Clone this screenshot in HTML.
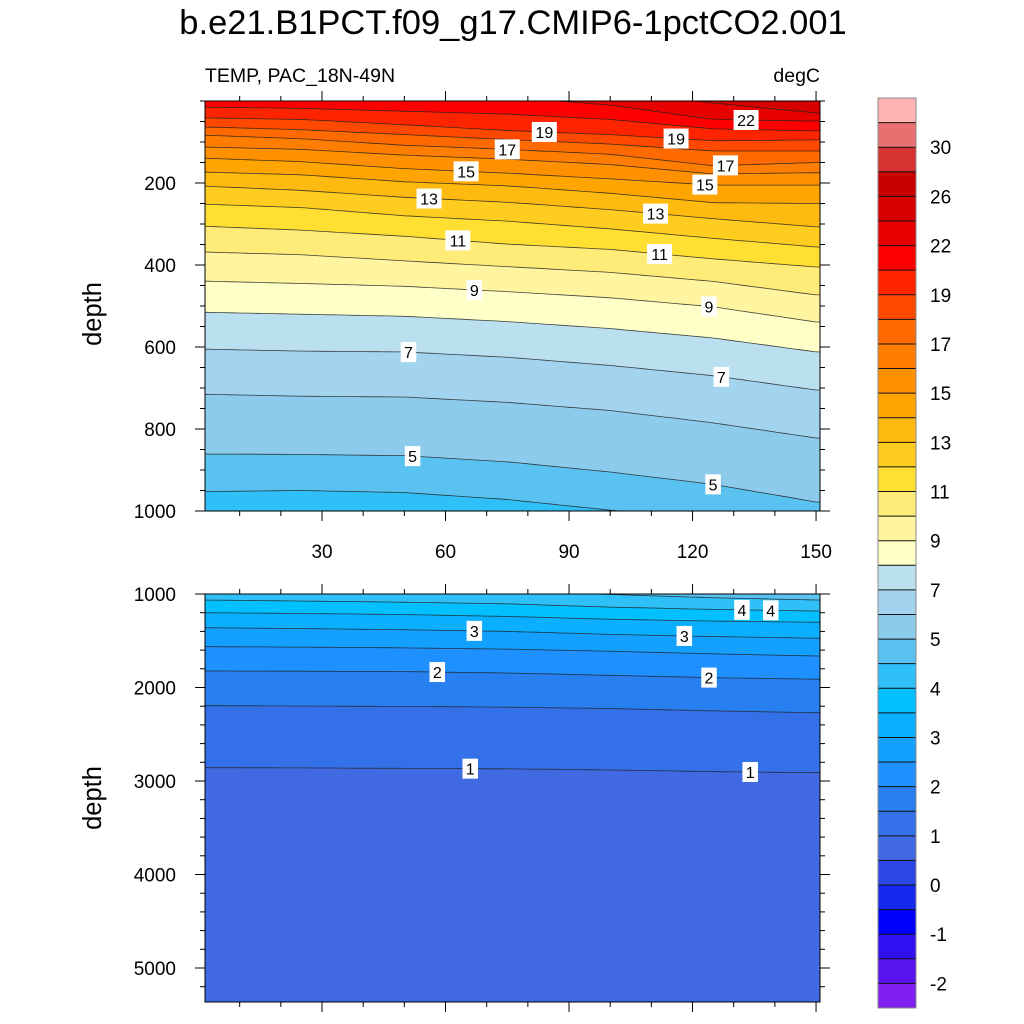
<!DOCTYPE html>
<html><head><meta charset="utf-8"><style>
body{margin:0;background:#fff;}
svg{display:block;font-family:"Liberation Sans",Arial,sans-serif;}
</style></head><body>
<svg id="chart" width="1024" height="1024" viewBox="0 0 1024 1024" xmlns="http://www.w3.org/2000/svg">
<text x="513" y="34" text-anchor="middle" font-size="34.5">b.e21.B1PCT.f09_g17.CMIP6-1pctCO2.001</text>
<text x="205" y="82" font-size="19.5">TEMP, PAC_18N-49N</text>
<text x="820" y="82" font-size="19.5" text-anchor="end">degC</text>
<text transform="translate(101,314) rotate(-90)" text-anchor="middle" font-size="25.5">depth</text>
<text transform="translate(101,798) rotate(-90)" text-anchor="middle" font-size="25.5">depth</text>
<defs>
<clipPath id="clipTop"><rect x="205" y="101" width="615" height="410"/></clipPath>
<clipPath id="clipBot"><rect x="205" y="594" width="615" height="408"/></clipPath>
</defs>
<g id="topPanel" clip-path="url(#clipTop)"></g>
<g id="botPanel" clip-path="url(#clipBot)"></g>
<g id="overlay"></g>
<g id="colorbar"></g>
</svg>
<script>
// Contour levels and colours (colorbar)
const levels = [-2,-1.5,-1,-0.5,0,0.5,1,1.5,2,2.5,3,3.5,4,4.5,5,6,7,8,9,10,11,12,13,14,15,16,17,18,19,20,22,24,26,28,30,32];
const colors = ["#8020f0","#5a14f0","#3010f0","#0000ff","#1428f0","#2d46e6","#4169e1","#3470e8","#2880f0","#1e90ff","#14a0ff","#0ab0ff","#00c0ff","#30c0f8","#5ac2f0","#8ccbeb","#a2d4f0","#bae0f0","#ffffc8","#fff5a0","#ffec78","#ffe032","#ffcc20","#ffba10","#ffa500","#ff9000","#ff7d00","#ff6a00","#ff4800","#ff2400","#ff0000","#e60000","#d70000","#c80000","#d73232","#e87070","#ffb4b4"];
const cbLabels = [-2,-1,0,1,2,3,4,5,7,9,11,13,15,17,19,22,26,30];
// Longitude columns where isotherm depths were read
const lonCols = [0,25,50,75,100,125,150];
// Upper panel isotherm depths (m)
const topLevels = [4.5,5,6,7,8,9,10,11,12,13,14,15,16,17,18,19,20,22,24];
const topDepths = [
 [953,950,955,972,998,1020,1060],
 [861,862,865,880,905,935,978],
 [715,720,722,735,755,785,822],
 [605,610,612,625,645,670,705],
 [515,520,525,538,555,578,612],
 [439,445,452,465,480,502,539],
 [368,375,390,404,418,440,473],
 [305,315,330,349,362,385,405],
 [251,260,280,293,312,335,356],
 [207,218,235,247,265,287,307],
 [173,180,197,207,225,248,250],
 [139,148,165,176,190,205,205],
 [112,118,132,142,155,178,175],
 [83,92,108,118,130,158,150],
 [63,70,82,94,105,122,122],
 [41,45,58,72,82,97,95],
 [15,18,25,32,45,68,73],
 [-20,-20,-15,-10,10,45,49],
 [-50,-50,-50,-50,-30,5,29]
];
// Deep panel isotherm depths (m)
const botLevels = [1,1.5,2,2.5,3,3.5,4,4.5];
const botDepths = [
 [2857,2860,2865,2870,2882,2900,2911],
 [2194,2198,2203,2210,2225,2250,2270],
 [1823,1826,1830,1845,1870,1895,1911],
 [1563,1568,1576,1590,1612,1640,1663],
 [1360,1370,1382,1400,1432,1455,1473],
 [1200,1208,1220,1240,1270,1290,1302],
 [1064,1075,1088,1105,1140,1165,1182],
 [960,960,965,975,1005,1040,1064]
];
// Contour label positions: [level, longitude]
const topLabelPos = [[19,84],[17,75],[15,65],[13,56],[11,63],[9,67],[7,51],[5,52],[22,133],[19,116],[17,128],[15,123],[13,111],[11,112],[9,124],[7,127],[5,125]];
const botLabelPos = [[4,132],[4,139],[3,67],[3,118],[2,58],[2,124],[1,66],[1,134]];
const xTicks = [30,60,90,120,150];
const topYTicks = [200,400,600,800,1000];
const botYTicks = [1000,2000,3000,4000,5000];

const NS="http://www.w3.org/2000/svg";
function mk(tag,attrs,parent){const e=document.createElementNS(NS,tag);for(const k in attrs)e.setAttribute(k,attrs[k]);parent.appendChild(e);return e;}
const xS = lon => 198.5 + lon*4.117;
const topY = d => 101 + d*0.41;
const botY = d => 594 + (d-1000)*0.0935;
function colorBelow(lv){const i=levels.indexOf(lv);return colors[i];}
function colorAbove(lv){const i=levels.indexOf(lv);return colors[i+1];}
function interp(row,lon){for(let i=0;i<lonCols.length-1;i++){if(lon<=lonCols[i+1]){const t=(lon-lonCols[i])/(lonCols[i+1]-lonCols[i]);return row[i]+t*(row[i+1]-row[i]);}}return row[row.length-1];}
function linePts(row,yS){const pts=[];for(let lon=-2;lon<=152;lon+=2){pts.push([xS(lon),yS(interp(row,Math.max(0,Math.min(150,lon))))]);}return pts;}

function drawPanel(g,lvls,depths,yS,yTop,yBot,name){
  const bg=mk('rect',{x:205,y:yTop,width:615,height:yBot-yTop,fill:colorAbove(lvls[lvls.length-1])},g);
  
  
  const order=lvls.map((l,i)=>i).reverse();
  order.forEach(i=>{
    const pts=linePts(depths[i],yS);
    let d='M'+pts.map(p=>p[0].toFixed(1)+','+p[1].toFixed(1)).join('L');
    const fillD=d+'L'+xS(152)+','+(yBot+5)+'L'+xS(-2)+','+(yBot+5)+'Z';
    const f=mk('path',{d:fillD,fill:colorBelow(lvls[i]),stroke:'none'},g);
    
    
  });
  order.forEach(i=>{
    const pts=linePts(depths[i],yS);
    const d='M'+pts.map(p=>p[0].toFixed(1)+','+p[1].toFixed(1)).join('L');
    const l=mk('path',{d:d,fill:'none',stroke:'#222','stroke-width':0.8,'stroke-opacity':0.85},g);
    
    
  });
}
function drawLabels(lbls,lvls,depths,yS){
  const ov=document.getElementById('overlay');
  lbls.forEach(([lv,lon])=>{
    const i=lvls.indexOf(lv);
    const x=xS(lon), y=yS(interp(depths[i],lon));
    const txt=String(lv);
    const w=txt.length*9.5+6;
    const r=mk('rect',{x:x-w/2,y:y-10,width:w,height:20,fill:'#fff'},ov);
    
    
    const t=mk('text',{x:x,y:y+6,'text-anchor':'middle','font-size':16,fill:'#000'},ov);
    t.textContent=txt;
    
    
  });
}
function drawAxes(yTop,yBot,yS,yTicks,minorStep,dmin,dmax,showX){
  const ov=document.getElementById('overlay');
  const fr=mk('rect',{x:205,y:yTop,width:615,height:yBot-yTop,fill:'none',stroke:'#000','stroke-width':1},ov);
  
  
  for(let lon=10;lon<=150;lon+=10){
    const major=lon%30===0, L=major?10:5, x=xS(lon);
    mk('line',{x1:x,x2:x,y1:yBot,y2:yBot+L,stroke:'#000','stroke-width':1},ov);
    mk('line',{x1:x,x2:x,y1:yTop,y2:yTop-L,stroke:'#000','stroke-width':1},ov);
  }
  if(showX){xTicks.forEach(v=>{const t=mk('text',{x:xS(v),y:yBot+47,'text-anchor':'middle','font-size':19},ov);t.textContent=v;
    
    });}
  for(let d=Math.ceil(dmin/minorStep)*minorStep;d<=dmax;d+=minorStep){
    const major=yTicks.includes(d), L=major?10:5, y=yS(d);
    mk('line',{x1:205,x2:205-L,y1:y,y2:y,stroke:'#000','stroke-width':1},ov);
    mk('line',{x1:820,x2:820+L,y1:y,y2:y,stroke:'#000','stroke-width':1},ov);
  }
  yTicks.forEach(v=>{const t=mk('text',{x:176,y:yS(v)+7,'text-anchor':'end','font-size':19},ov);t.textContent=v;
    
    });
}
drawPanel(document.getElementById('topPanel'),topLevels,topDepths,topY,101,511,'top');
drawPanel(document.getElementById('botPanel'),botLevels,botDepths,botY,594,1002,'bottom');
drawLabels(topLabelPos,topLevels,topDepths,topY);
drawLabels(botLabelPos,botLevels,botDepths,botY);
drawAxes(101,511,topY,topYTicks,50,0,1000,true);
drawAxes(594,1002,botY,botYTicks,200,1000,5364,false);

(function(){
  const cb=document.getElementById('colorbar');
  const y0=98,y1=1008,n=colors.length,h=(y1-y0)/n;
  colors.forEach((c,i)=>{
    const y=y1-(i+1)*h;
    const r=mk('rect',{x:878,y:y,width:38,height:h,fill:c},cb);
    
    
  });
  levels.forEach((lv,i)=>{
    const y=y1-(i+1)*h;
    mk('line',{x1:878,x2:916,y1:y,y2:y,stroke:'#111','stroke-width':1},cb);
    if(cbLabels.includes(lv)){
      const t=mk('text',{x:930,y:y+7,'font-size':19},cb);t.textContent=lv;
      
      
    }
  });
  mk('rect',{x:878,y:y0,width:38,height:y1-y0,fill:'none',stroke:'#888','stroke-width':1},cb);
})();
</script>
</body></html>
